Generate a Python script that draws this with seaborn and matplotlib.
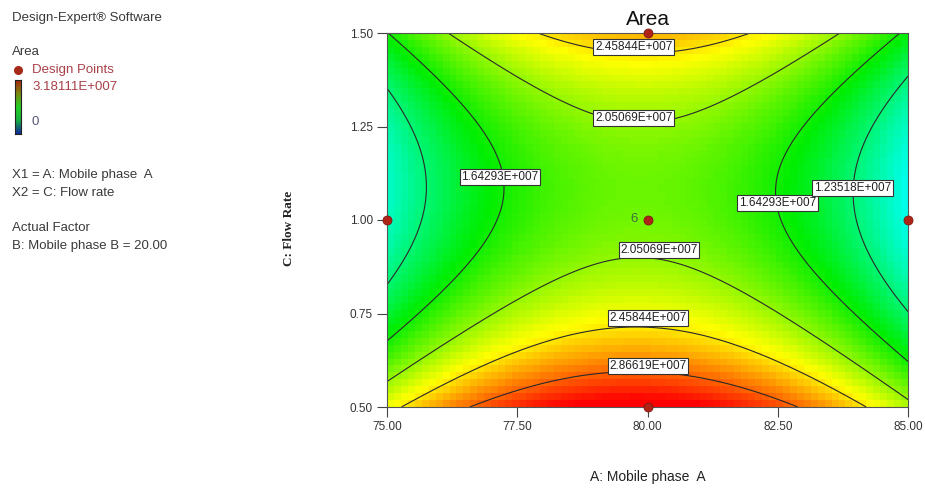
import numpy as np, pandas as pd
import seaborn as sns
import matplotlib.pyplot as plt
from matplotlib.colors import LinearSegmentedColormap
from matplotlib.lines import Line2D
from matplotlib.ticker import FormatStrFormatter

sns.set_theme(style="white")
plt.rcParams['font.family'] = ['Liberation Sans', 'DejaVu Sans']

# fitted quadratic model (coded units: a=(A-80)/5, c=(C-1)/0.5)
intercept = 1.945e7
linear = [-0.067e7, -0.320e7]      # a, c
quadratic = [-1.021e7, 1.003e7]    # a^2, c^2
interaction = 0.040e7              # a*c

contour_levels = [1.23518e7, 1.64293e7, 2.05069e7, 2.45844e7, 2.86619e7]
color_max = 3.18111e7

# design points
pts_A = [75.0, 80.0, 85.0, 80.0, 80.0]
pts_C = [1.0, 1.0, 1.0, 1.5, 0.5]
center_runs = 6

x_ticks = [75.0, 77.5, 80.0, 82.5, 85.0]
y_ticks = [0.50, 0.75, 1.00, 1.25, 1.50]


def area(A, C):
    a = (A - 80) / 5
    c = (C - 1) / 0.5
    return (intercept + linear[0] * a + linear[1] * c + quadratic[0] * a ** 2
            + quadratic[1] * c ** 2 + interaction * a * c)


def de_fmt(v):
    m, e = f"{v:.5E}".split("E")
    return f"{m}E{e[0]}{int(e[1:]):03d}"


cmap = LinearSegmentedColormap.from_list(
    "de", ["#0000ff", "#00ffff", "#00ee00", "#ffff00", "#ff0000"])

fig = plt.figure(figsize=(9.25, 4.88), dpi=100)
ax = fig.add_axes([387 / 925, 1 - 407 / 488, 521 / 925, 374 / 488])

# coarse pixelated surface like Design-Expert
nx, ny = 75, 54
xe = np.linspace(75, 85, nx + 1)
ye = np.linspace(0.5, 1.5, ny + 1)
xc = (xe[:-1] + xe[1:]) / 2
yc = (ye[:-1] + ye[1:]) / 2
Zc = area(*np.meshgrid(xc, yc))
ax.pcolormesh(xe, ye, Zc, cmap=cmap, vmin=0, vmax=color_max, shading="flat")

# smooth contours
xf = np.linspace(75, 85, 300)
yf = np.linspace(0.5, 1.5, 300)
Xf, Yf = np.meshgrid(xf, yf)
cs = ax.contour(Xf, Yf, area(Xf, Yf), levels=contour_levels,
                colors="#2a2a2a", linewidths=0.8)

# contour labels: (A, C, level index)
label_spots = [(79.74, 1.463, 3), (79.74, 1.273, 2), (77.17, 1.115, 1),
               (82.50, 1.045, 1), (83.93, 1.086, 0), (80.22, 0.920, 2),
               (80.01, 0.738, 3), (80.01, 0.610, 4)]
for x, y, k in label_spots:
    ax.text(x, y, de_fmt(contour_levels[k]), ha="center", va="center",
            fontsize=8.5, color="#222222", zorder=5,
            bbox=dict(facecolor="white", edgecolor="#333333", pad=1.3, lw=0.8))

pts = pd.DataFrame({"A": pts_A, "C": pts_C})
sns.scatterplot(data=pts, x="A", y="C", ax=ax, color="#b02418", edgecolor="#7a1a10",
                s=42, linewidth=0.6, clip_on=False, zorder=6)
ax.annotate(str(center_runs), (80.0, 1.0), xytext=(-7, 1), textcoords="offset points",
            ha="right", va="center", fontsize=9.5, color="#3c6e3c")

ax.set_xlim(75, 85)
ax.set_ylim(0.5, 1.5)
ax.set_xticks(x_ticks)
ax.set_yticks(y_ticks)
ax.xaxis.set_major_formatter(FormatStrFormatter("%.2f"))
ax.yaxis.set_major_formatter(FormatStrFormatter("%.2f"))
ax.tick_params(bottom=True, left=True, direction="out", length=7, width=0.8,
               color="#444444", labelsize=8.5, labelcolor="#333333", pad=3)
for lab in ax.get_xticklabels() + ax.get_yticklabels():
    lab.set_family(["Liberation Sans Narrow", "Liberation Sans"])
for sp in ax.spines.values():
    sp.set_color("#555555")
    sp.set_linewidth(0.8)

ax.set_title("Area", fontsize=15, pad=6, color="#111111")
ax.set_xlabel("A: Mobile phase  A", fontsize=10, color="#222222")
ax.xaxis.set_label_coords(0.5, -(477 - 407) / 374)
ax.xaxis.label.set_va("center")
ax.set_ylabel("C: Flow Rate", fontsize=9.5, color="#222222",
              family=["Liberation Serif", "DejaVu Serif"], fontweight="bold")
ax.yaxis.set_label_coords(-(387 - 289) / 521, (407 - 228) / 374)
ax.yaxis.label.set_va("center")

# left-hand information panel
tc = "#3a3a3a"
fs = 9.5
W, H = 925, 488
fig.text(12 / W, 1 - 18 / H, "Design-Expert® Software", fontsize=fs, color=tc, va="center")
fig.text(12 / W, 1 - 52 / H, "Area", fontsize=fs, color=tc, va="center")
fig.add_artist(Line2D([18 / W], [1 - 70 / H], marker="o", markersize=5.5,
                      color="#a52a1a", transform=fig.transFigure))
fig.text(32 / W, 1 - 70 / H, "Design Points", fontsize=fs, color="#a8404a", va="center")
fig.text(32 / W, 1 - 87 / H, de_fmt(color_max), fontsize=fs, color="#a8404a", va="center")
fig.text(32 / W, 1 - 122 / H, "0", fontsize=fs, color="#55557a", va="center")
cax = fig.add_axes([15 / W, 1 - 134 / H, 6 / W, 54 / H])
legend_cmap = LinearSegmentedColormap.from_list(
    "leg", ["#102a9a", "#18b040", "#22d022", "#7a8a10", "#a8280c"])
cax.imshow(np.linspace(1, 0, 50)[:, None], aspect="auto", cmap=legend_cmap)
cax.set_xticks([])
cax.set_yticks([])
for sp in cax.spines.values():
    sp.set_color("#222222")
    sp.set_linewidth(0.8)
fig.text(12 / W, 1 - 175 / H, "X1 = A: Mobile phase  A", fontsize=fs, color=tc, va="center")
fig.text(12 / W, 1 - 193 / H, "X2 = C: Flow rate", fontsize=fs, color=tc, va="center")
fig.text(12 / W, 1 - 228 / H, "Actual Factor", fontsize=fs, color=tc, va="center")
fig.text(12 / W, 1 - 246 / H, "B: Mobile phase B = 20.00", fontsize=fs, color=tc, va="center")

fig.savefig("out.png", dpi=100)
